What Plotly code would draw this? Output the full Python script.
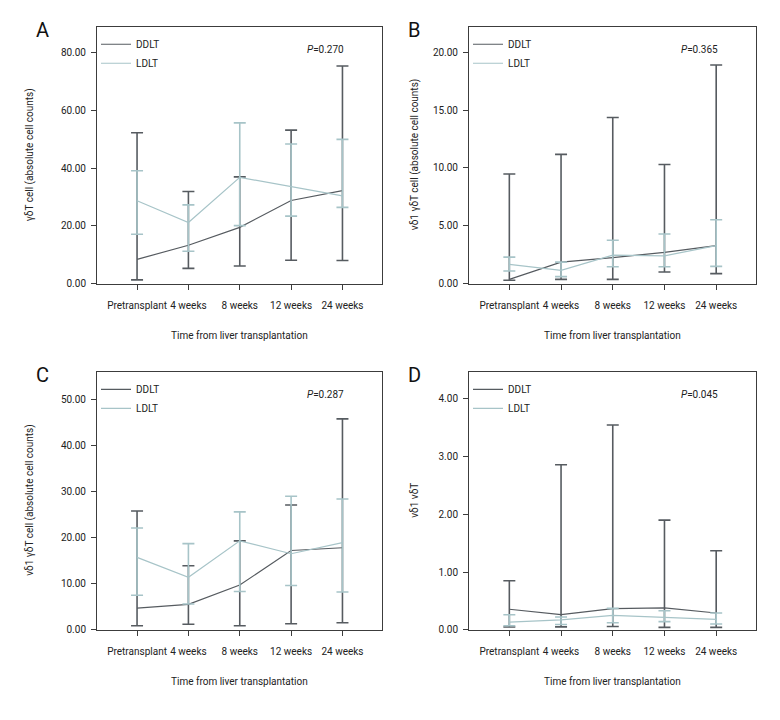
import plotly.graph_objects as go

categories = ["Pretransplant", "4 weeks", "8 weeks", "12 weeks", "24 weeks"]

# Panel A: γδT cell
a_ddlt_med = [8.4, 13.3, 19.5, 28.8, 32.2]
a_ddlt_hi = [52.3, 31.9, 37.0, 53.2, 75.4]
a_ddlt_lo = [1.3, 5.3, 6.1, 8.1, 8.0]
a_ldlt_med = [28.7, 21.2, 36.8, 33.5, 30.4]
a_ldlt_hi = [39.1, 27.3, 55.7, 48.4, 50.0]
a_ldlt_lo = [17.1, 11.2, 20.1, 23.4, 26.4]

# Panel B: vδ1 γδT cell
b_ddlt_med = [0.37, 1.86, 2.25, 2.70, 3.28]
b_ddlt_hi = [9.48, 11.17, 14.36, 10.29, 18.9]
b_ddlt_lo = [0.29, 0.37, 0.37, 1.0, 0.86]
b_ldlt_med = [1.66, 1.14, 2.46, 2.40, 3.28]
b_ldlt_hi = [2.29, 1.86, 3.75, 4.29, 5.52]
b_ldlt_lo = [1.09, 0.6, 1.46, 1.46, 1.49]

# Panel C: vδ1 γδT cell
c_ddlt_med = [4.7, 5.5, 9.7, 17.2, 17.8]
c_ddlt_hi = [25.8, 13.9, 19.3, 27.1, 45.8]
c_ddlt_lo = [0.86, 1.2, 0.86, 1.3, 1.5]
c_ldlt_med = [15.7, 11.4, 19.3, 16.5, 18.9]
c_ldlt_hi = [22.1, 18.7, 25.6, 29.0, 28.4]
c_ldlt_lo = [7.5, 5.6, 8.3, 9.6, 8.2]

# Panel D: vδ1 vδT
d_ddlt_med = [0.355, 0.26, 0.366, 0.38, 0.29]
d_ddlt_hi = [0.85, 2.86, 3.55, 1.90, 1.37]
d_ddlt_lo = [0.046, 0.05, 0.057, 0.04, 0.04]
d_ldlt_med = [0.13, 0.17, 0.25, 0.22, 0.18]
d_ldlt_hi = [0.26, 0.22, 0.37, 0.33, 0.29]
d_ldlt_lo = [0.07, 0.09, 0.12, 0.14, 0.10]

panel_letters = ["A", "B", "C", "D"]
p_values = ["0.270", "0.365", "0.287", "0.045"]
y_titles = ["γδT cell (absolute cell counts)", "vδ1 γδT cell (absolute cell counts)",
            "vδ1 γδT cell (absolute cell counts)", "vδ1 vδT"]
y_ranges = [[0, 89], [0, 22.2], [0, 56], [0, 4.47]]
y_dticks = [20, 5, 10, 1]
x_title = "Time from liver transplantation"

panels = [
    (a_ddlt_med, a_ddlt_hi, a_ddlt_lo, a_ldlt_med, a_ldlt_hi, a_ldlt_lo),
    (b_ddlt_med, b_ddlt_hi, b_ddlt_lo, b_ldlt_med, b_ldlt_hi, b_ldlt_lo),
    (c_ddlt_med, c_ddlt_hi, c_ddlt_lo, c_ldlt_med, c_ldlt_hi, c_ldlt_lo),
    (d_ddlt_med, d_ddlt_hi, d_ddlt_lo, d_ldlt_med, d_ldlt_hi, d_ldlt_lo),
]

W, H = 780, 720
DARK = "#565b60"
LIGHT = "#a7c4c8"
AXC = "#3c3c3c"
FONT = "Roboto, Liberation Sans, Arial, sans-serif"
FS = 10

# plot boxes in pixels: (left, top, right, bottom)
boxes = [(97, 27, 382, 286), (469, 27, 756, 286), (97, 375, 382, 635), (469, 375, 756, 635)]

fig = go.Figure()
annotations = []
layout = {}

for i, (box, data) in enumerate(zip(boxes, panels)):
    l, t, r, b = box
    n = "" if i == 0 else str(i + 1)
    dm, dh, dl, lm, lh, ll = data
    leg = "legend" + n
    for name, med, hi, lo, col in [("DDLT", dm, dh, dl, DARK), ("LDLT", lm, lh, ll, LIGHT)]:
        fig.add_trace(go.Scatter(
            x=categories, y=med, mode="lines", name=name,
            line=dict(color=col, width=1.2),
            error_y=dict(type="data", symmetric=False,
                         array=[h - m for h, m in zip(hi, med)],
                         arrayminus=[m - o for m, o in zip(med, lo)],
                         color=col, thickness=1.6, width=6),
            xaxis="x" + n, yaxis="y" + n, legend=leg,
        ))
    layout["xaxis" + n] = dict(
        domain=[l / W, r / W], anchor="y" + n, type="category",
        range=[-0.78, 4.77], showline=True, mirror=True, linecolor=AXC, linewidth=1,
        ticks="outside", ticklen=5, tickcolor=AXC, showgrid=False, zeroline=False,
        ticklabelstandoff=7,
        tickangle=0, tickfont=dict(family=FONT, size=FS, color="#222"),
    )
    layout["yaxis" + n] = dict(
        domain=[1 - b / H, 1 - t / H], anchor="x" + n,
        range=y_ranges[i], dtick=y_dticks[i], tick0=0, tickformat=".2f",
        showline=True, mirror=True, linecolor=AXC, linewidth=1,
        ticks="outside", ticklen=5, tickcolor=AXC, showgrid=False, zeroline=False,
        ticklabelstandoff=3,
        tickfont=dict(family=FONT, size=FS, color="#222"),
    )
    layout[leg] = dict(
        x=(l - 1) / W, y=1 - (t + 3) / H, xanchor="left", yanchor="top",
        bgcolor="rgba(0,0,0,0)", borderwidth=0, itemwidth=30,
        font=dict(family=FONT, size=FS, color="#222"), tracegroupgap=0,
    )
    # panel letter
    annotations.append(dict(text=panel_letters[i], x=(l - 63) / W, y=1 - (t + 3) / H,
                            xref="paper", yref="paper", xanchor="left", yanchor="middle",
                            showarrow=False, font=dict(family=FONT, size=20, color="#111")))
    # p-value
    annotations.append(dict(text="<i>P</i>=" + p_values[i], x=(r - 57) / W, y=1 - (t + 23) / H,
                            xref="paper", yref="paper", xanchor="center", yanchor="middle",
                            showarrow=False, font=dict(family=FONT, size=FS, color="#222")))
    # y title
    yoff = 67 if i % 2 == 0 else 54
    annotations.append(dict(text=y_titles[i], x=(l - yoff) / W, y=1 - ((t + b) / 2) / H,
                            xref="paper", yref="paper", xanchor="center", yanchor="middle",
                            textangle=-90, showarrow=False,
                            font=dict(family=FONT, size=FS, color="#222")))
    # x title
    annotations.append(dict(text=x_title, x=((l + r) / 2) / W, y=1 - (b + 52) / H,
                            xref="paper", yref="paper", xanchor="center", yanchor="middle",
                            showarrow=False, font=dict(family=FONT, size=FS, color="#222")))

fig.update_layout(
    width=W, height=H, autosize=False,
    margin=dict(l=0, r=0, t=0, b=0),
    paper_bgcolor="white", plot_bgcolor="white",
    annotations=annotations,
    **layout,
)

fig.write_html("out.html", config={"displayModeBar": False},
               post_script="document.body.style.margin='0px';")
